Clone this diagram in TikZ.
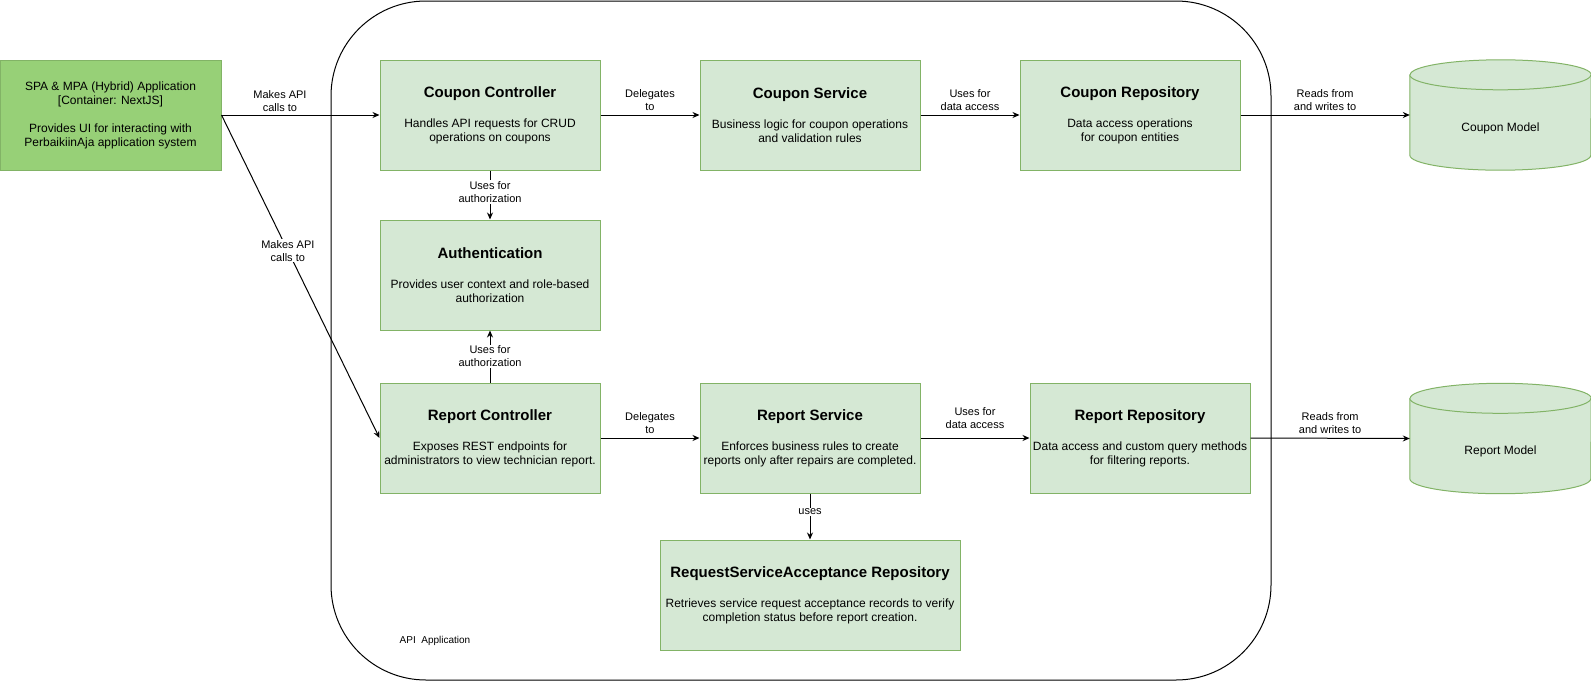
\documentclass[tikz,border=0pt]{standalone}
\usepackage{fontspec}
\setmainfont{Liberation Sans}
\usetikzlibrary{arrows.meta,backgrounds}
\definecolor{boxfill}{HTML}{D5E8D4}
\definecolor{boxline}{HTML}{82B366}
\definecolor{appfill}{HTML}{97D077}
\newcommand{\ctitle}[1]{{\bfseries\fontsize{15}{18}\selectfont #1}\\[16pt]}
\newcommand{\dbshape}[1]{\draw[dbline] ([yshift=-15pt]#1.north west) -- ([yshift=15pt]#1.south west) arc[start angle=180, end angle=360, x radius=90.5pt, y radius=15pt] -- ([yshift=-15pt]#1.north east) arc[start angle=0, end angle=180, x radius=90.5pt, y radius=15pt] -- cycle;
\draw[dbline] ([yshift=-15pt]#1.north west) arc[start angle=180, end angle=360, x radius=90.5pt, y radius=15pt];}
\begin{document}
\begin{tikzpicture}[x=1pt,y=1pt,
comp/.style={draw=boxline, fill=boxfill, line width=1pt, minimum width=220pt, minimum height=110pt, inner sep=0pt, align=center, font=\fontsize{12}{14}\selectfont},
db/.style={minimum width=181pt, minimum height=110pt, inner sep=0pt, font=\fontsize{12}{14}\selectfont},
dbline/.style={draw=boxline, fill=boxfill, line width=1pt},
rel/.style={-{Stealth[length=7pt,width=6pt]}, line width=1pt},
lbl/.style={font=\fontsize{11}{13}\selectfont, align=center, fill=white, inner sep=1pt}]
\useasboundingbox (0,0) rectangle (1591,-681);
\draw[line width=1pt, rounded corners=95pt] (331,-1) rectangle (1271,-680);
\node[font=\fontsize{10}{12}\selectfont] (apilabel) at (435,-641) {API\ \ Application};
\node[comp, fill=appfill, minimum width=221pt] (spa) at (110.5,-115) {SPA \& MPA (Hybrid) Application\\{}[Container: NextJS]\\[14pt]Provides UI for interacting with\\PerbaikiinAja application system};
\node[comp] (cc) at (490,-115) {\ctitle{Coupon Controller}Handles API requests for CRUD\\operations on coupons};
\node[comp] (cs) at (810,-115) {\ctitle{Coupon Service}Business logic for coupon operations\\and validation rules};
\node[comp] (cr) at (1130,-115) {\ctitle{Coupon Repository}Data access operations\\for coupon entities};
\node[comp] (auth) at (490,-275) {\ctitle{Authentication}Provides user context and role-based\\authorization};
\node[comp] (rc) at (490,-438) {\ctitle{Report Controller}Exposes REST endpoints for\\administrators to view technician report.};
\node[comp] (rs) at (810,-438) {\ctitle{Report Service}Enforces business rules to create\\reports only after repairs are completed.};
\node[comp] (rr) at (1140,-438) {\ctitle{Report Repository}Data access and custom query methods\\for filtering reports.};
\node[comp, minimum width=300pt] (rsa) at (810,-595) {\ctitle{RequestServiceAcceptance Repository}Retrieves service request acceptance records to verify\\completion status before report creation.};
\node[db] (cmodel) at (1500.5,-115) {};
\node[db] (rmodel) at (1500.5,-438.5) {};
\node[font=\fontsize{12}{14}\selectfont] (ctext) at ([yshift=-13pt]cmodel.center) {Coupon Model};
\node[font=\fontsize{12}{14}\selectfont] (rtext) at ([yshift=-13pt]rmodel.center) {Report Model};
\begin{scope}[on background layer]
\dbshape{cmodel}
\dbshape{rmodel}
\end{scope}
\draw[rel] (spa.east) -- (cc.west) node[lbl, fill=none, pos=0.37, yshift=14pt] {Makes API\\calls to};
\draw[rel] (spa.east) -- (rc.west) node[lbl, pos=0.42] {Makes API\\calls to};
\draw[rel] (cc.east) -- (cs.west) node[lbl, fill=none, midway, yshift=15pt] {Delegates\\to};
\draw[rel] (cs.east) -- (cr.west) node[lbl, fill=none, midway, yshift=15pt] {Uses for\\data access};
\draw[rel] (cr.east) -- (cmodel.west) node[lbl, fill=none, midway, yshift=15pt] {Reads from\\and writes to};
\draw[rel] (cc.south) -- (auth.north) node[lbl, midway, yshift=3pt] {Uses for\\authorization};
\draw[rel] (rc.north) -- (auth.south) node[lbl, midway] {Uses for\\authorization};
\draw[rel] (rc.east) -- (rs.west) node[lbl, fill=none, midway, yshift=15pt] {Delegates\\to};
\draw[rel] (rs.east) -- (rr.west) node[lbl, fill=none, midway, yshift=20pt] {Uses for\\data access};
\draw[rel] (rr.east) -- (rmodel.west) node[lbl, fill=none, midway, yshift=15pt] {Reads from\\and writes to};
\draw[rel] (rs.south) -- (rsa.north) node[lbl, pos=0.4] {uses};
\end{tikzpicture}
\end{document}
